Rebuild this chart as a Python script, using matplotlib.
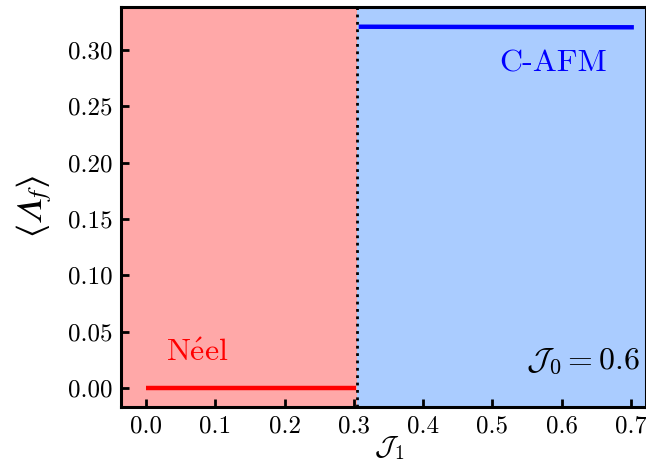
import numpy as np
import matplotlib
matplotlib.use("Agg")
import matplotlib.pyplot as plt

plt.rcParams['mathtext.fontset'] = 'cm'
plt.rcParams['font.family'] = 'serif'
plt.rcParams['font.serif'] = ['cmr10']
plt.rcParams['axes.formatter.use_mathtext'] = True

# phase boundary and order parameter values
j_boundary = 0.305
neel_x = [0.0, 0.303]
neel_y = [0.0, 0.0]
cafm_x = [0.307, 0.704]
cafm_y = [0.3205, 0.3200]
x_ticks = [0.0, 0.1, 0.2, 0.3, 0.4, 0.5, 0.6, 0.7]
y_ticks = [0.00, 0.05, 0.10, 0.15, 0.20, 0.25, 0.30]

fig = plt.figure(figsize=(6.46, 4.61), dpi=100)
ax = fig.add_axes([121/646, 1 - 407/461, 1 - 121/646, 400/461])

xmin, xmax = -0.036, 0.7215
ymin, ymax = -0.0169, 0.338

ax.axvspan(xmin, j_boundary, color='#ffa8a8', lw=0)
ax.axvspan(j_boundary, xmax, color='#aaccff', lw=0)
ax.axvline(j_boundary, color='black', ls=':', lw=2.0)

ax.plot(neel_x, neel_y, color='red', lw=3.2, solid_capstyle='butt')
ax.plot(cafm_x, cafm_y, color='blue', lw=3.2, solid_capstyle='butt')

ax.text(0.074, 0.031, r'$\mathrm{N\acute{e}el}$', color='red', fontsize=23, ha='center', va='center')
ax.text(0.587, 0.288, 'C-AFM', color='blue', fontsize=23, ha='center', va='center')
ax.text(0.713, 0.024, r'$\mathcal{J}_0 = 0.6$', fontsize=23, ha='right', va='center')

ax.set_xlim(xmin, xmax)
ax.set_ylim(ymin, ymax)
ax.set_xticks(x_ticks)
ax.set_yticks(y_ticks)
ax.set_xticklabels([f'{v:.1f}' for v in x_ticks])
ax.set_yticklabels([f'{v:.2f}' for v in y_ticks])
ax.tick_params(direction='in', length=6, width=2, labelsize=18, pad=6)

ax.set_ylabel('$\\langle \U0001D6EC_f \\rangle$', fontsize=26, labelpad=10,
              math_fontfamily='stix')
ax.set_xlabel(r'$\mathcal{J}_1$', fontsize=20)
ax.xaxis.set_label_coords(0.51, -0.068)

for s in ax.spines.values():
    s.set_linewidth(2.2)

fig.savefig('out.png', dpi=100)
